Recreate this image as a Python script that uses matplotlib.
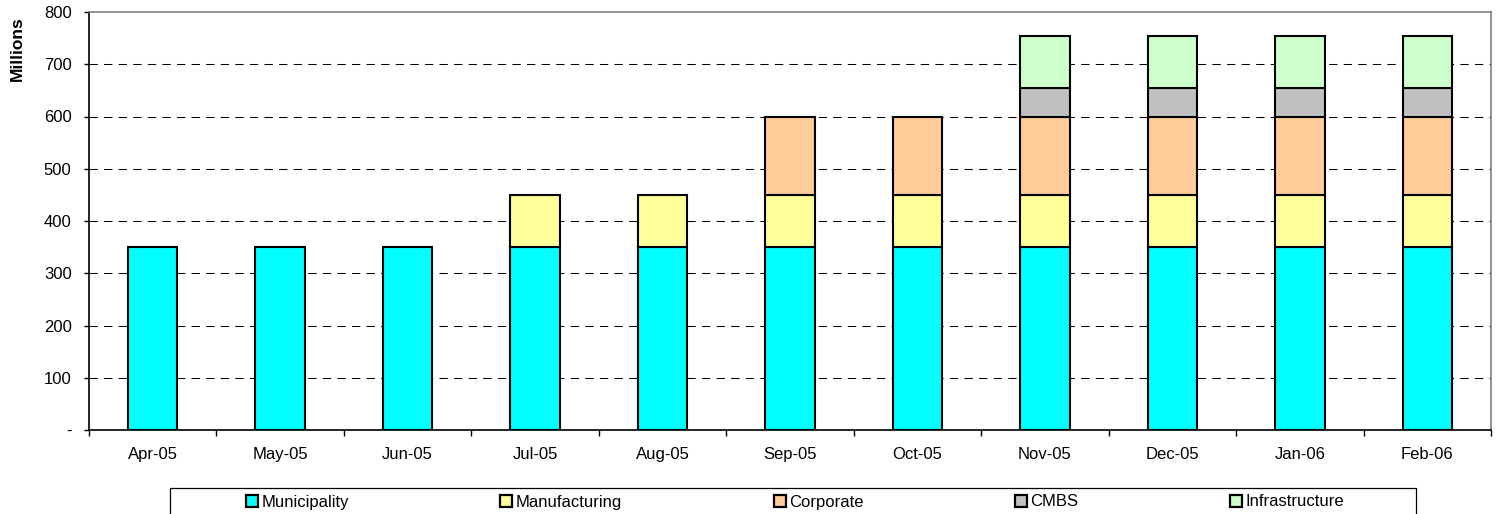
import matplotlib
matplotlib.use("Agg")
import matplotlib.pyplot as plt
from matplotlib.patches import Rectangle
import numpy as np

plt.rcParams['font.family'] = ['Liberation Sans', 'DejaVu Sans']

months = ["Apr-05", "May-05", "Jun-05", "Jul-05", "Aug-05", "Sep-05",
          "Oct-05", "Nov-05", "Dec-05", "Jan-06", "Feb-06"]
series_names = ["Municipality", "Manufacturing", "Corporate", "CMBS", "Infrastructure"]
municipality = [350, 350, 350, 350, 350, 350, 350, 350, 350, 350, 350]
manufacturing = [0, 0, 0, 100, 100, 100, 100, 100, 100, 100, 100]
corporate = [0, 0, 0, 0, 0, 150, 150, 150, 150, 150, 150]
cmbs = [0, 0, 0, 0, 0, 0, 0, 55, 55, 55, 55]
infrastructure = [0, 0, 0, 0, 0, 0, 0, 100, 100, 100, 100]
yticks = [0, 100, 200, 300, 400, 500, 600, 700, 800]
ytick_labels = ["-", "100", "200", "300", "400", "500", "600", "700", "800"]

colors = ["#00FFFF", "#FFFF99", "#FFCC99", "#C0C0C0", "#CCFFCC"]
data = [municipality, manufacturing, corporate, cmbs, infrastructure]

FS = 12
W, H = 1499, 514
fig = plt.figure(figsize=(W / 100, H / 100), dpi=100)
ax = fig.add_axes([89 / W, 1 - 430 / H, (1491 - 89) / W, (430 - 12) / H])

x = np.arange(len(months))
bottom = np.zeros(len(months))
handles = []
for name, vals, c in zip(series_names, data, colors):
    vals = np.array(vals, dtype=float)
    mask = vals > 0
    ax.bar(x[mask], vals[mask], width=0.388, bottom=bottom[mask], color=c,
           edgecolor="black", linewidth=1.5, zorder=3)
    bottom += vals
    handles.append(Rectangle((0, 0), 1, 1, facecolor=c, edgecolor="black", linewidth=1.6))

ax.set_xlim(-0.5, len(months) - 0.5)
ax.set_ylim(0, 800)
ax.set_yticks(yticks)
ax.set_yticklabels(ytick_labels, fontsize=FS)
ax.set_xticks(x)
ax.set_xticklabels(months, fontsize=FS)
ax.tick_params(axis="x", which="major", length=0, pad=12)
ax.set_xticks(np.arange(-0.5, len(months)), minor=True)
ax.tick_params(axis="x", which="minor", length=4, width=1, direction="out", color="black")
ax.tick_params(axis="y", length=3.5, width=1, direction="out", pad=9, color="black")

for y in yticks[1:-1]:
    ax.axhline(y, color="black", linewidth=0.75, linestyle=(0, (8, 6)), zorder=1)

for s in ["left", "bottom"]:
    ax.spines[s].set_color("black")
    ax.spines[s].set_linewidth(1.2)
for s in ["top", "right"]:
    ax.spines[s].set_color("#808080")
    ax.spines[s].set_linewidth(1.2)

fig.text(17 / W, 1 - 49 / H, "Millions", rotation=90, fontsize=12.5, fontweight="bold",
         ha="center", va="center")

# legend frame
fig.patches.append(Rectangle((170 / W, -0.05), (1416 - 170) / W, 0.05 + 1 - 488 / H,
                             transform=fig.transFigure, facecolor="white",
                             edgecolor="black", linewidth=0.9))
fig.legend(handles, series_names, loc="center", bbox_to_anchor=(795 / W, 1 - 502 / H),
           ncol=5, frameon=False, fontsize=FS, handlelength=0.72, handleheight=0.72,
           handletextpad=0.2, columnspacing=9.1, borderpad=0)

fig.savefig("out.png", dpi=100)
